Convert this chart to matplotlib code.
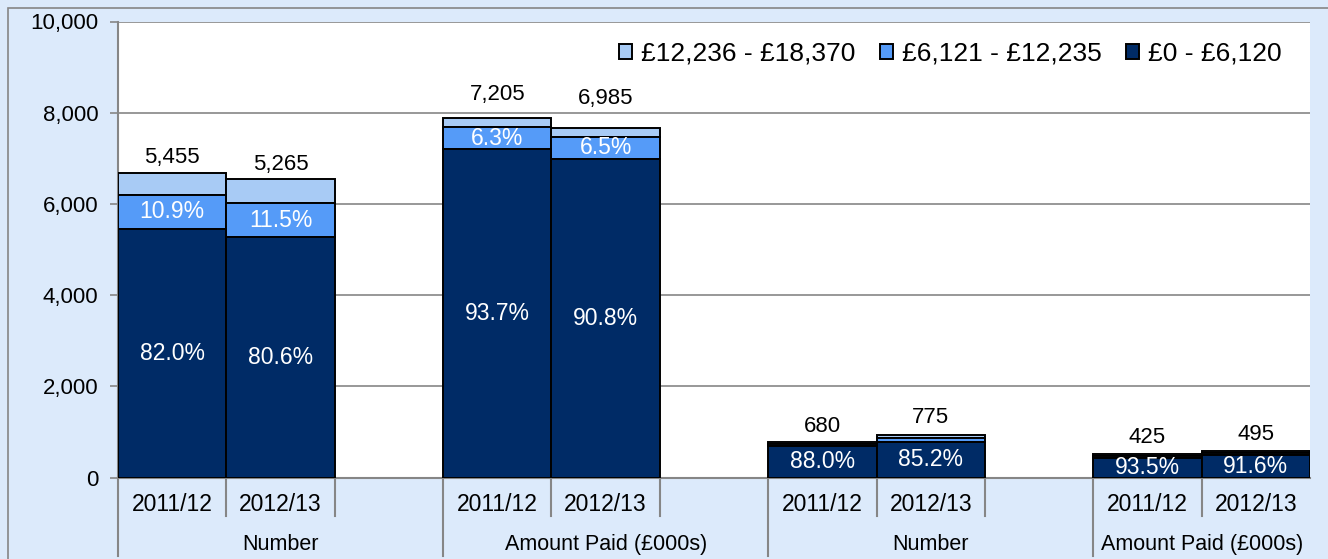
import matplotlib.pyplot as plt
from matplotlib.lines import Line2D
from matplotlib.patches import Rectangle
import matplotlib.transforms as mtransforms

plt.rcParams['font.family'] = ['Liberation Sans', 'DejaVu Sans']

# data
groups = ["Number", "Amount Paid (£000s)", "Number", "Amount Paid (£000s)"]
years = ["2011/12", "2012/13"]
band_low = [5455, 5265, 7205, 6985, 680, 775, 425, 495]       # £0 - £6,120
band_mid = [745, 760, 480, 485, 60, 100, 45, 50]              # £6,121 - £12,235
band_high = [480, 520, 195, 205, 45, 60, 40, 45]              # £12,236 - £18,370
value_labels = ["5,455", "5,265", "7,205", "6,985", "680", "775", "425", "495"]
low_pct = ["82.0%", "80.6%", "93.7%", "90.8%", "88.0%", "85.2%", "93.5%", "91.6%"]
mid_pct = ["10.9%", "11.5%", "6.3%", "6.5%", "", "", "", ""]
legend_names = ["£12,236 - £18,370", "£6,121 - £12,235", "£0 - £6,120"]

c_low = "#002B66"
c_mid = "#559BF8"
c_high = "#A8CBF5"
bg = "#DCEAFB"
grey = "#868686"

W, H = 1328, 559
fig = plt.figure(figsize=(W / 100, H / 100), dpi=100)
fig.patch.set_facecolor(bg)
fig.patches.append(Rectangle((8 / W, -0.1), 1.2, (H - 8) / H + 0.1, transform=fig.transFigure,
                             facecolor="none", edgecolor=grey, linewidth=1.2))

ax = fig.add_axes([118 / W, 81.5 / H, 1192 / W, 456 / H])
ax.set_facecolor("white")

# slot layout: two bars per group, one empty slot between groups
pos = []
for g in range(len(groups)):
    pos += [g * 3, g * 3 + 1]

tops = [a + b + c for a, b, c in zip(band_low, band_mid, band_high)]
mids = [a + b for a, b in zip(band_low, band_mid)]
kw = dict(width=1, align="edge", edgecolor="black", linewidth=1.4, zorder=3)
ax.bar(pos, band_high, bottom=mids, color=c_high, label=legend_names[0], **kw)
ax.bar(pos, band_mid, bottom=band_low, color=c_mid, label=legend_names[1], **kw)
ax.bar(pos, band_low, color=c_low, label=legend_names[2], **kw)

offsets = [15, 15, 24, 29, 15, 17, 17, 16]
for i, x in enumerate(pos):
    ax.annotate(value_labels[i], (x + 0.5, tops[i]), xytext=(0, offsets[i]),
                textcoords="offset pixels", ha="center", va="center", fontsize=16,
                zorder=5, bbox=dict(boxstyle="square,pad=0.08", fc="white", ec="none"))
    ax.text(x + 0.5, band_low[i] / 2, low_pct[i], ha="center", va="center",
            color="white", fontsize=16.5, zorder=5, clip_on=True)
    if mid_pct[i]:
        ax.text(x + 0.5, band_low[i] + band_mid[i] / 2, mid_pct[i], ha="center",
                va="center", color="white", fontsize=16.5, zorder=5)

ax.set_xlim(0, 11)
ax.set_ylim(0, 10000)
ax.set_yticks(range(0, 10001, 2000))
ax.set_yticklabels([f"{v:,}" for v in range(0, 10001, 2000)], fontsize=16)
ax.set_xticks([])
ax.yaxis.grid(True, color=grey, linewidth=1.2)
ax.set_axisbelow(True)
for s in ["top", "right"]:
    ax.spines[s].set_visible(False)
for s in ["left", "bottom"]:
    ax.spines[s].set_color(grey)
    ax.spines[s].set_linewidth(1.5)
ax.tick_params(axis="y", length=6, width=1.2, color=grey, pad=8)

# category axis: year labels, group labels, separators
tr = mtransforms.blended_transform_factory(ax.transData, ax.transAxes)
h_ax = 456
for g, name in enumerate(groups):
    x0 = g * 3
    for j, yr in enumerate(years):
        ax.text(x0 + j + 0.5, -27 / h_ax, yr, transform=tr, ha="center", va="center",
                fontsize=16.5)
    xe = min(x0 + 3, 11)
    ax.text((x0 + xe) / 2, -67 / h_ax, name, transform=tr, ha="center", va="center",
            fontsize=15.5)
    ax.add_line(Line2D([x0, x0], [0, -78 / h_ax], transform=tr, color=grey,
                       linewidth=1.5, clip_on=False))
    for xs in (x0 + 1, x0 + 2):
        if xs < 11:
            ax.add_line(Line2D([xs, xs], [0, -38 / h_ax], transform=tr, color=grey,
                               linewidth=1.5, clip_on=False))

ax.legend(loc="center right", bbox_to_anchor=(0.985, 0.93), ncol=3, frameon=False,
          fontsize=19, handlelength=0.5, handleheight=0.5, handletextpad=0.35,
          columnspacing=0.9, borderaxespad=0)

fig.savefig("out.png", dpi=100, facecolor=bg)
